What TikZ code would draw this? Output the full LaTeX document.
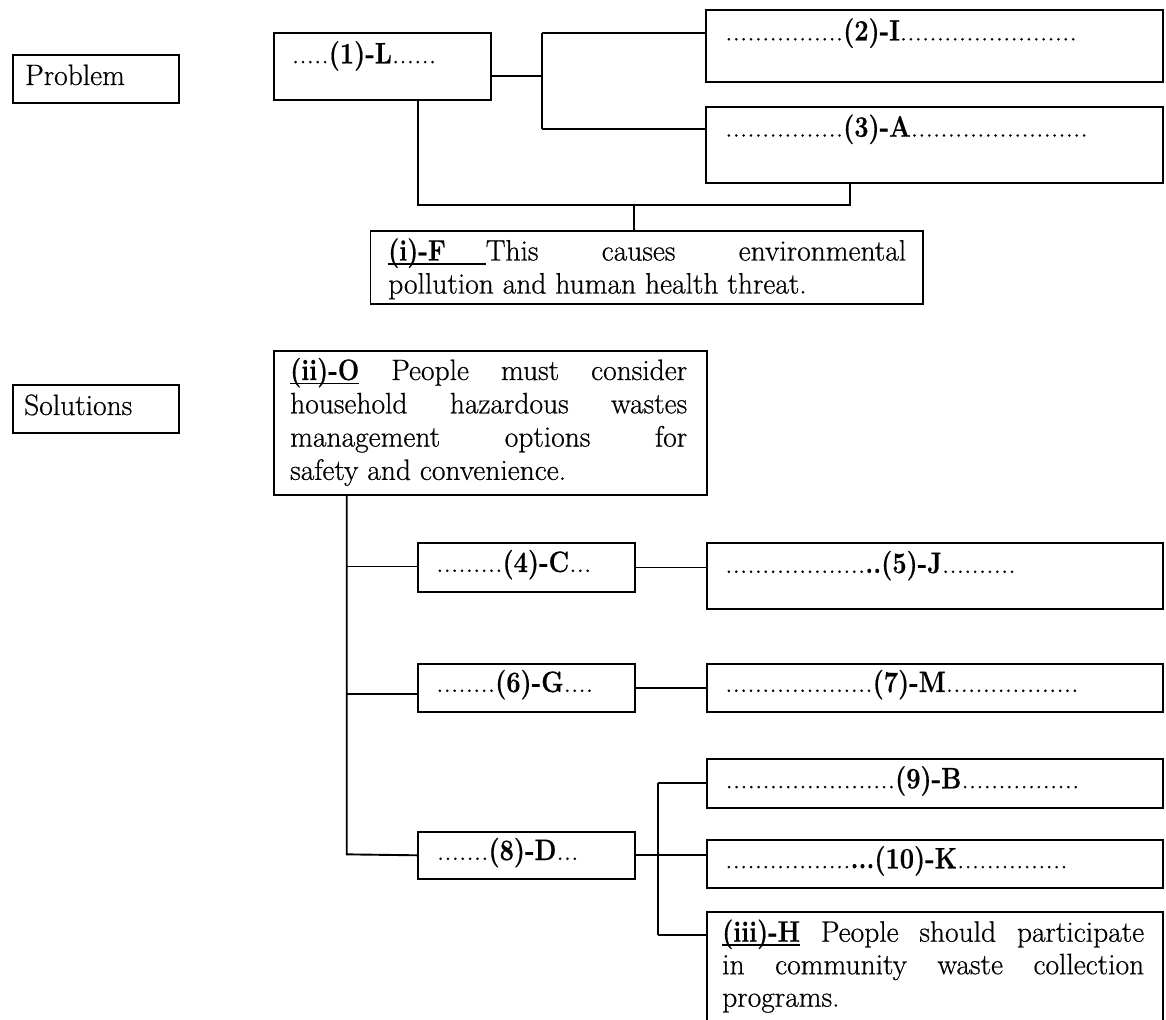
\documentclass[tikz,border=0pt]{standalone}
\usepackage{fontspec}
\usepackage{graphicx}
\setmainfont{Latin Modern Roman}[FakeBold=0.6]

% a row of n leader dots
\newcount\dotcount
\newcommand\dts[1]{\dotcount=#1\relax\loop\ifnum\dotcount>0 .\advance\dotcount by -1\relax\repeat}
% bold answer label, slightly condensed
\newcommand\lab[1]{\scalebox{0.86}[1]{\textbf{#1}}}
% bold label underlined over its own width
\newcommand\ulab[1]{\setbox0=\hbox{\lab{#1}}\rlap{\rule[-4pt]{\wd0}{1.3pt}}\box0}
% bold label underlined over a given width
\newcommand\ulabw[2]{\makebox[#2][l]{\rlap{\rule[-4pt]{#2}{1.3pt}}\lab{#1}}}
% stacked lines with a fixed line pitch; baseline = first line
\newcommand\textlines[2]{\vtop{\baselineskip=#1\lineskiplimit=-1000pt\lineskip=0pt #2}}

\begin{document}
\begin{tikzpicture}[x=1pt,y=-1pt,
  panel/.style={draw, line width=1.9pt, inner sep=0pt, anchor=north west},
  txt/.style={inner sep=0pt, anchor=base west, font=\fontsize{29.5}{34}\selectfont},
  link/.style={line width=1.9pt, line join=miter}]
\useasboundingbox (0,0) rectangle (1166,1019);
\fill[white] (0,0) rectangle (1166,1019);
\clip (0,0) rectangle (1166,1019);

% ---------- section labels ----------
\node[panel, minimum width=166pt, minimum height=48.3pt] (prob) at (12,54) {};
\node[txt] (probT) at (25,85) {Problem};
\node[panel, minimum width=166pt, minimum height=47.7pt] (sol) at (12,384) {};
\node[txt] (solT) at (24,415) {Solutions};

% ---------- problem tree ----------
\node[panel, minimum width=216.7pt, minimum height=67.3pt] (L1) at (273.3,32) {};
\node[txt] (L1t) at (291.7,63.3) {\dts{5}\lab{(1)-L}\dts{6}};

\node[panel, minimum width=457pt, minimum height=72pt] (I2) at (705,9.3) {};
\node[txt] (I2t) at (725,40.5) {\dts{16}\lab{(2)-I}\dts{24}};

\node[panel, minimum width=457pt, minimum height=76.5pt] (A3) at (705,106) {};
\node[txt] (A3t) at (725,136.7) {\dts{16}\lab{(3)-A}\dts{24}};

\node[panel, minimum width=552.5pt, minimum height=72.7pt] (F) at (369.5,230) {};
\node[txt] (Ft) at (388,260.5) {\textlines{33pt}{%
  \hbox to 518pt{\ulabw{(i)-F}{97.6pt}This\hfill causes\hfill environmental}%
  \hbox{pollution and human health threat.}}};

% ---------- solution tree ----------
\node[panel, minimum width=432.7pt, minimum height=144.3pt] (O) at (273.3,350) {};
\node[txt] (Ot) at (290,380) {\textlines{33.3pt}{%
  \hbox to 397pt{\ulab{(ii)-O}\hfill People\hfill must\hfill consider}%
  \hbox to 397pt{household\hfill hazardous\hfill wastes}%
  \hbox to 397pt{management\hfill options\hfill for}%
  \hbox{safety and convenience.}}};

\node[panel, minimum width=217pt, minimum height=48.4pt] (C4) at (417,542.3) {};
\node[txt] (C4t) at (436,572) {\dts{9}\lab{(4)-C}\dts{3}};

\node[panel, minimum width=456.3pt, minimum height=66pt] (J5) at (705.7,542.3) {};
\node[txt] (J5t) at (725,573) {\dts{19}\lab{..(5)-J}\dts{10}};

\node[panel, minimum width=217pt, minimum height=48pt] (G6) at (417,662.7) {};
\node[txt] (G6t) at (436,692) {\dts{8}\lab{(6)-G}\dts{4}};

\node[panel, minimum width=456.3pt, minimum height=48pt] (M7) at (705.7,662.7) {};
\node[txt] (M7t) at (725,692) {\dts{20}\lab{(7)-M}\dts{18}};

\node[panel, minimum width=217pt, minimum height=47.3pt] (D8) at (417,830.7) {};
\node[txt] (D8t) at (436.7,860) {\dts{7}\lab{(8)-D}\dts{3}};

\node[panel, minimum width=456.3pt, minimum height=49pt] (B9) at (705.7,758.3) {};
\node[txt] (B9t) at (725.3,788.3) {\dts{23}\lab{(9)-B}\dts{16}};

\node[panel, minimum width=456.3pt, minimum height=47.7pt] (K10) at (705.7,839) {};
\node[txt] (K10t) at (725,868.3) {\dts{17}\lab{...(10)-K}\dts{15}};

\node[panel, minimum width=456.3pt, minimum height=130pt] (H) at (705.7,911) {};
\node[txt] (Ht) at (722,941.7) {\textlines{32.5pt}{%
  \hbox to 422pt{\ulab{(iii)-H}\hfill People\hfill should\hfill participate}%
  \hbox to 422pt{in\hfill community\hfill waste\hfill collection}%
  \hbox{programs.}}};

% ---------- junction points ----------
\coordinate (jA)  at (542,76);
\coordinate (jAt) at (542,33.3);
\coordinate (jAb) at (542,129.3);
\coordinate (jB)  at (417.7,205);
\coordinate (jC)  at (850,205);
\coordinate (jD)  at (634,205);
\coordinate (sO)  at (346.7,854.35);
\coordinate (sC)  at (346.7,566.5);
\coordinate (sG)  at (346.7,694);
\coordinate (tB)  at (657.7,782.8);
\coordinate (tH)  at (657.7,935);

% ---------- connectors ----------
\draw[link] (L1.east |- jA) -- (jA);
\draw[link] (jAt) -- (jAb);
\draw[link] (jAt) -- (I2.west |- jAt);
\draw[link] (jAb) -- (A3.west |- jAb);
\draw[link] (L1.south -| jB) -- (jB) -- (jC) -- (A3.south -| jC);
\draw[link] (jD) -- (F.north -| jD);

\draw[link] (O.south -| sO) -- (sO) -- (D8.west);
\draw[link] (sC) -- (C4.west |- sC);
\draw[link] (sG) -- (G6.west |- sG);
\draw[link] (C4.east) -- (C4.east -| J5.west);
\draw[link] (G6.east) -- (G6.east -| M7.west);
\draw[link] (D8.east) -- (D8.east -| K10.west);
\draw[link] (tB) -- (tH);
\draw[link] (tB) -- (B9.west |- tB);
\draw[link] (tH) -- (H.west |- tH);
\end{tikzpicture}
\end{document}
